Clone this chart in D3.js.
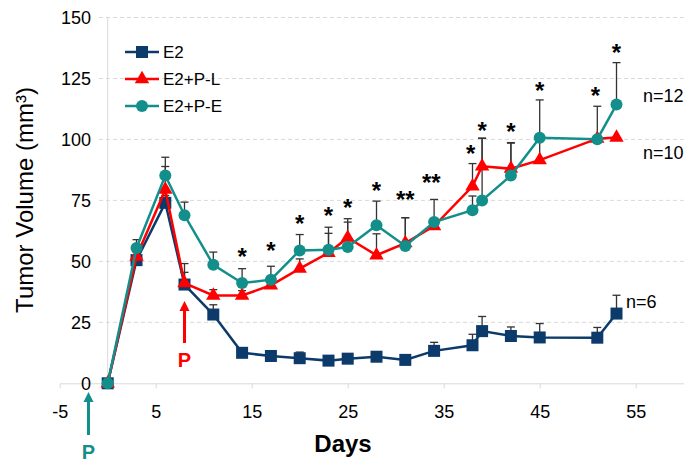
<!DOCTYPE html>
<html>
<head>
<meta charset="utf-8">
<script src="https://cdn.jsdelivr.net/npm/d3@7"></script>
<style>
  body { margin: 0; background: #fff; }
  svg { font-family: "Liberation Sans", Arial, sans-serif; }
</style>
</head>
<body>
<svg class="chart" width="688" height="464"></svg>
<script>
// Days of measurement (same for all groups)
var days = [0, 3, 6, 8, 11, 14, 17, 20, 23, 25, 28, 31, 34, 38, 39, 42, 45, 51, 53];

// Mean tumor volume (mm3) per group
var e2Vals  = [0, 50.5, 74, 40.5, 28.2, 12.5, 11.2, 10.3, 9.3, 10.1, 10.9, 9.6, 13.3, 15.6, 21.4, 19.4, 18.8, 18.7, 28.6];
var e2plVals = [0, 52, 79.4, 41.1, 36, 36, 40.2, 47, 53.5, 59.7, 52.5, 57.5, 64.5, 80.8, 89, 88, 91.5, 100.3, 100.8];
var e2peVals = [0, 55.5, 85.2, 68.9, 48.6, 41.1, 42.5, 54.5, 54.8, 55.9, 64.8, 56.3, 66.1, 71, 75, 85.2, 100.7, 100.1, 114.3];

// Upper error (SEM) per group
var e2Err  = [0, 1.5, 3, 5, 4, 2, 1.6, 2.5, 1.5, 2, 1.5, 1.5, 3.5, 4.5, 6, 3.7, 5.7, 4.2, 7.5];
var e2plErr = [0, 3, 9.5, 8, 2.4, 2, 3, 4, 8, 6.4, 8.8, 10.4, 3, 9.3, 11.5, 10.5, 8, 0, 0];
var e2peErr = [0, 3.4, 7.5, 5.4, 5.2, 5.9, 5.5, 6.5, 9.2, 11.6, 9.9, 11.6, 9.3, 5.8, 25.5, 13.5, 15.5, 13.5, 17.2];

// Significance marks (day position, height in mm3)
var starLabels = ["*", "*", "*", "*", "*", "*", "**", "**", "*", "*", "*", "*", "*", "*"];
var starDays   = [14, 17, 20, 23, 25, 28, 31, 33.7, 37.8, 39, 42, 45, 50.8, 53];
var starVals   = [53.8, 56.1, 67.5, 70.5, 74.1, 80.7, 77.3, 84.1, 96.2, 105.7, 105, 122.1, 119.8, 137.4];

// Group size labels
var nLabels = ["n=12", "n=10", "n=6"];
var nVals   = [118, 94.5, 33.5];

var xTicks = [-5, 5, 15, 25, 35, 45, 55];
var yTicks = [0, 25, 50, 75, 100, 125, 150];

var navy = "#0b3a6b", red = "#ff0000", teal = "#138f8b";

var series = [
    { name: "E2",      vals: e2Vals,   err: e2Err,   color: navy, shape: "square" },
    { name: "E2+P-L",  vals: e2plVals, err: e2plErr, color: red,  shape: "triangle" },
    { name: "E2+P-E",  vals: e2peVals, err: e2peErr, color: teal, shape: "circle" }
];

var svg = d3.select(".chart");

var xScale = d3.scaleLinear().domain([-5, 60]).range([59.7, 683.7]);
var yScale = d3.scaleLinear().domain([0, 150]).range([383.3, 17.5]);

/**** grid ****/
svg.append("g")
    .selectAll("line")
    .data(yTicks.filter(function(d) { return d > 0; }))
    .enter().append("line")
    .attr("x1", 99).attr("x2", xScale(60))
    .attr("y1", function(d) { return yScale(d); })
    .attr("y2", function(d) { return yScale(d); })
    .attr("stroke", "#d9d9d9")
    .attr("stroke-width", 1)
    .attr("stroke-dasharray", "4,3");

/**** X axis ****/
var xAxis = d3.axisBottom(xScale)
    .tickValues(xTicks)
    .tickFormat(function(d) { return String(d); }) // plain hyphen, not unicode minus
    .tickSize(5)
    .tickSizeOuter(0);
var gx = svg.append("g")
    .attr("transform", "translate(0," + yScale(0) + ")")
    .call(xAxis);
gx.select(".domain").attr("stroke", "#d9d9d9");
gx.selectAll(".tick line").attr("stroke", "#d9d9d9");
gx.selectAll(".tick text")
    .attr("y", 0).attr("dy", "1.95em")
    .style("font-size", "18px").style("fill", "#000")
    .style("font-family", "Liberation Sans, Arial, sans-serif");

/**** Y axis ****/
svg.append("line")
    .attr("x1", xScale(0)).attr("x2", xScale(0))
    .attr("y1", yScale(0)).attr("y2", yScale(150))
    .attr("stroke", "#d9d9d9");
svg.append("g")
    .selectAll("text")
    .data(yTicks)
    .enter().append("text")
    .attr("x", 91)
    .attr("y", function(d) { return yScale(d); })
    .attr("dy", "0.35em")
    .attr("text-anchor", "end")
    .style("font-size", "18px")
    .text(function(d) { return d; });

/**** Axis titles ****/
svg.append("text")
    .attr("transform", "translate(33,200) rotate(-90)")
    .attr("text-anchor", "middle")
    .style("font-size", "24px")
    .text("Tumor Volume (mm³)");
svg.append("text")
    .attr("x", 343).attr("y", 452)
    .attr("text-anchor", "middle")
    .style("font-size", "24px").style("font-weight", "bold")
    .text("Days");

/**** Error bars ****/
series.forEach(function(s) {
    var g = svg.append("g").attr("stroke", "#333").attr("stroke-width", 1.3);
    days.forEach(function(d, i) {
        if (s.err[i] <= 0) return;
        var x = xScale(d), y0 = yScale(s.vals[i]), y1 = yScale(s.vals[i] + s.err[i]);
        g.append("line").attr("x1", x).attr("x2", x).attr("y1", y0).attr("y2", y1);
        g.append("line").attr("x1", x - 4).attr("x2", x + 4).attr("y1", y1).attr("y2", y1);
    });
});

/**** Lines + markers ****/
function drawMarker(g, shape, color, x, y) {
    if (shape === "square") {
        g.append("rect").attr("x", x - 6).attr("y", y - 6).attr("width", 12).attr("height", 12).attr("fill", color);
    } else if (shape === "triangle") {
        g.append("path").attr("d", d3.symbol(d3.symbolTriangle, 90)()).attr("transform", "translate(" + x + "," + y + ")").attr("fill", color);
    } else {
        g.append("circle").attr("cx", x).attr("cy", y).attr("r", 6).attr("fill", color);
    }
}

var line = d3.line()
    .x(function(d) { return xScale(d[0]); })
    .y(function(d) { return yScale(d[1]); });

series.forEach(function(s) {
    var pts = days.map(function(d, i) { return [d, s.vals[i]]; });
    var g = svg.append("g");
    g.append("path")
        .attr("d", line(pts))
        .attr("fill", "none")
        .attr("stroke", s.color)
        .attr("stroke-width", 2.5);
    pts.forEach(function(p) { drawMarker(g, s.shape, s.color, xScale(p[0]), yScale(p[1])); });
});

/**** Stars ****/
svg.append("g")
    .selectAll("text")
    .data(starLabels)
    .enter().append("text")
    .attr("x", function(d, i) { return xScale(starDays[i]); })
    .attr("y", function(d, i) { return yScale(starVals[i]) + 13; })
    .attr("text-anchor", "middle")
    .style("font-size", "24px").style("font-weight", "bold")
    .text(function(d) { return d; });

/**** n labels ****/
svg.append("g")
    .selectAll("text")
    .data(nLabels)
    .enter().append("text")
    .attr("x", function(d, i) { return i < 2 ? 643 : 626; })
    .attr("y", function(d, i) { return yScale(nVals[i]); })
    .attr("dy", "0.35em")
    .style("font-size", "18px")
    .text(function(d) { return d; });

/**** Legend ****/
var legend = svg.append("g");
series.forEach(function(s, i) {
    var y = 52 + i * 27;
    legend.append("line").attr("x1", 125).attr("x2", 159).attr("y1", y).attr("y2", y)
        .attr("stroke", s.color).attr("stroke-width", 2.5);
    drawMarker(legend, s.shape, s.color, 142, y);
    legend.append("text").attr("x", 163).attr("y", y).attr("dy", "0.35em")
        .style("font-size", "17px").text(s.name);
});

/**** Treatment arrows ****/
function arrow(day, yTop, yBot, color, labelY) {
    var x = xScale(day);
    svg.append("line").attr("x1", x).attr("x2", x).attr("y1", yTop + 8).attr("y2", yBot)
        .attr("stroke", color).attr("stroke-width", 3);
    svg.append("path")
        .attr("d", "M" + (x - 5) + "," + (yTop + 10) + "L" + x + "," + yTop + "L" + (x + 5) + "," + (yTop + 10) + "Z")
        .attr("fill", color);
    svg.append("text").attr("x", x).attr("y", labelY).attr("dy", "0.35em")
        .attr("text-anchor", "middle")
        .style("font-size", "20px").style("font-weight", "bold").style("fill", color)
        .text("P");
}
arrow(-2, 392, 435, teal, 452);
arrow(8, 301, 343, red, 360);
</script>
</body>
</html>
